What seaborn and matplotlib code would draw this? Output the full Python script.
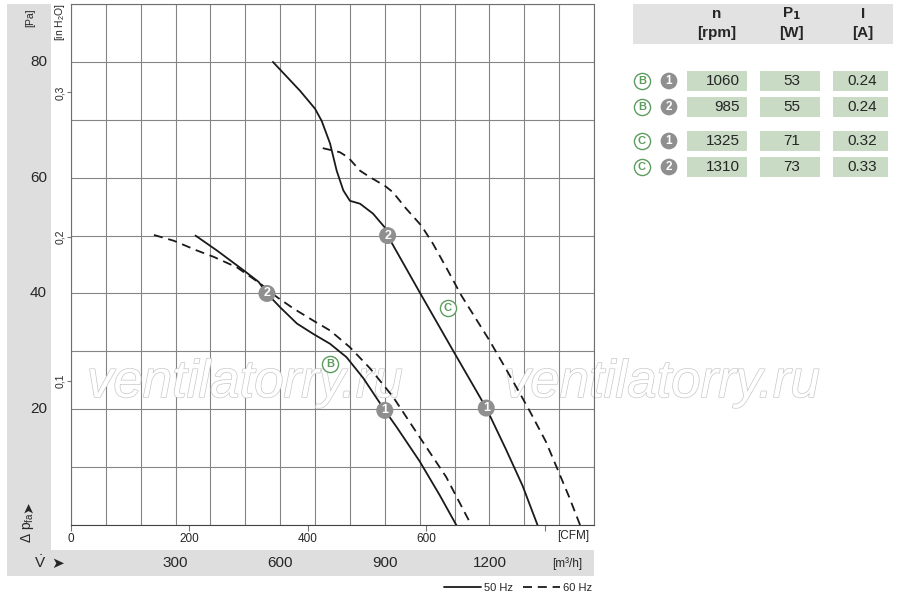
import pandas as pd
import matplotlib.pyplot as plt
import matplotlib.transforms as mtransforms
import matplotlib.patheffects as pe
from matplotlib.patches import Rectangle
from matplotlib.lines import Line2D
import seaborn as sns

# --- Configuration ---
sns.set_style('white')
plt.rcParams['font.family'] = ['Liberation Sans', 'DejaVu Sans']
plt.rcParams['mathtext.fontset'] = 'custom'
plt.rcParams['mathtext.rm'] = 'Liberation Sans'
plt.rcParams['mathtext.it'] = 'Liberation Sans:italic'

GRID = '#858585'
CELL = '#c9dac5'
BAND = '#dedede'
GREEN = '#5c9c5e'
DOT = '#8f8f8f'
CFM_TO_M3H = 1.699

# --- Data (flow in m3/h, pressure in Pa) ---
c50_flow = [579, 657, 700, 719, 743, 762, 781, 800, 829, 866, 900, 908, 1000, 1097, 1191, 1248, 1295, 1338]
c50_pa = [80.0, 75.0, 71.9, 69.8, 65.9, 61.2, 57.8, 56.0, 55.5, 53.8, 51.4, 50.0, 40.2, 30.0, 20.2, 13.0, 6.8, 0]

c60_flow = [722, 771, 795, 829, 857, 900, 923, 962, 1005, 1038, 1076, 1119, 1200, 1248, 1286, 1319, 1362, 1390, 1429, 1460]
c60_pa = [65.1, 64.4, 63.5, 61.2, 60.1, 58.6, 57.5, 54.6, 51.7, 48.6, 44.5, 39.7, 31.9, 26.9, 22.9, 19.3, 14.4, 10.4, 4.8, 0]

b50_flow = [357, 419, 495, 538, 562, 600, 648, 695, 743, 790, 838, 900, 933, 1000, 1057, 1105]
b50_pa = [50.0, 47.4, 44.0, 42.0, 40.0, 37.6, 34.8, 33.0, 31.3, 29.0, 25.4, 19.8, 17.0, 11.0, 5.2, 0]

b60_flow = [238, 295, 362, 410, 476, 543, 590, 638, 695, 743, 800, 857, 924, 981, 1076, 1148]
b60_pa = [50.1, 49.1, 47.4, 46.3, 44.5, 41.7, 39.4, 37.4, 35.3, 33.6, 30.7, 27.1, 22.1, 16.9, 8.3, 0]

# operating points (grey discs) and zone tags (green rings)
op_flow = [908, 1191, 562, 900]
op_pa = [50.0, 20.2, 40.0, 19.8]
op_label = ['2', '1', '2', '1']
tag_flow = [1081, 743]
tag_pa = [37.5, 27.8]
tag_label = ['C', 'B']

# axis labels
pa_ticks = [20, 40, 60, 80]
inh2o_ticks = [0.1, 0.2, 0.3]
inh2o_labels = ['0,1', '0,2', '0,3']
m3h_ticks = [300, 600, 900, 1200]
cfm_ticks = [0, 200, 400, 600, 800]
cfm_labels = ['0', '200', '400', '600', '']

# table
fan_type = ['B', 'B', 'C', 'C']
op_point = ['1', '2', '1', '2']
speed_rpm = [1060, 985, 1325, 1310]
power_w = [53, 55, 71, 73]
current_a = [0.24, 0.24, 0.32, 0.33]


def build_frame():
    parts = []
    for name, fl, pa, hz in [('C50', c50_flow, c50_pa, '50 Hz'), ('C60', c60_flow, c60_pa, '60 Hz'),
                             ('B50', b50_flow, b50_pa, '50 Hz'), ('B60', b60_flow, b60_pa, '60 Hz')]:
        parts.append(pd.DataFrame({'flow': fl, 'pa': pa, 'curve': name, 'freq': hz}))
    return pd.concat(parts, ignore_index=True)


df = build_frame()

fig = plt.figure(figsize=(9, 6), dpi=100)

# overlay in pixel coordinates for bands, table and labels
ov = fig.add_axes([0, 0, 1, 1], zorder=0)
ov.set_xlim(0, 900)
ov.set_ylim(600, 0)
ov.axis('off')
ov.add_patch(Rectangle((7, 4), 44, 572, color=BAND, lw=0))
ov.add_patch(Rectangle((7, 550), 587, 26, color=BAND, lw=0))

ax = fig.add_axes([71 / 900, 75 / 600, 523 / 900, 521 / 600], zorder=1)
ax.set_xlim(0, 1500)
ax.set_ylim(0, 90)
ax.set_xticks(range(0, 1501, 100))
ax.set_yticks(range(0, 91, 10))
ax.tick_params(length=0, labelbottom=False, labelleft=False)
ax.grid(True, color=GRID, lw=0.8)
for s in ax.spines.values():
    s.set_color('#6e6e6e')
    s.set_linewidth(0.8)
ax.spines['bottom'].set_color('#444444')

sns.lineplot(data=df, x='flow', y='pa', units='curve', estimator=None, sort=False,
             style='freq', dashes={'50 Hz': '', '60 Hz': (5, 3.2)}, color='#1a1a1a',
             lw=1.3, legend=False, ax=ax, zorder=3)
ax.set_xlabel('')
ax.set_ylabel('')

# watermark
for cx in [245, 662]:
    ax.text(cx, 397, 'ventilatorry.ru', transform=ov.transData, ha='center', va='baseline',
            fontsize=38, style='italic', family=['Liberation Sans', 'DejaVu Sans'], color='white',
            clip_on=False, zorder=2,
            path_effects=[pe.withStroke(linewidth=1.0, foreground='#c8c8c8')])

sns.scatterplot(x=op_flow, y=op_pa, s=150, color=DOT, edgecolor='none', ax=ax, zorder=5)
for f, p, lab in zip(op_flow, op_pa, op_label):
    ax.text(f, p, lab, ha='center', va='center', color='white', fontsize=9,
            fontweight='bold', zorder=6)
sns.scatterplot(x=tag_flow, y=tag_pa, s=135, color='white', edgecolor=GREEN, linewidth=1,
                ax=ax, zorder=5)
for f, p, lab in zip(tag_flow, tag_pa, tag_label):
    ax.text(f, p, lab, ha='center', va='center', color=GREEN, fontsize=8,
            fontweight='bold', zorder=6)

# CFM scale below the plot
secx = ax.secondary_xaxis('bottom', functions=(lambda q: q / CFM_TO_M3H, lambda c: c * CFM_TO_M3H))
secx.set_xticks(cfm_ticks)
secx.set_xticklabels(cfm_labels)
secx.tick_params(length=4, width=0.8, color='#777777', labelsize=8.5, pad=2)
secx.spines['bottom'].set_visible(False)

# inH2O scale on the left
secy = ax.secondary_yaxis('left', functions=(lambda p: p / 249.09, lambda h: h * 249.09))
secy.set_yticks(inh2o_ticks)
secy.set_yticklabels(inh2o_labels, rotation=90, va='center')
secy.tick_params(length=3, width=0.8, color='#777777', labelsize=7.5, pad=1.5)
secy.spines['left'].set_visible(False)

# Pa labels in the grey band, m3/h labels in the bottom band
pa_tr = mtransforms.blended_transform_factory(ov.transData, ax.transData)
for p in pa_ticks:
    ax.text(47, p, str(p), transform=pa_tr, ha='right', va='center', fontsize=11, clip_on=False)
q_tr = mtransforms.blended_transform_factory(ax.transData, ov.transData)
for q in m3h_ticks:
    ax.text(q, 563, str(q), transform=q_tr, ha='center', va='center', fontsize=11, clip_on=False)

ov.text(573, 536, '[CFM]', ha='center', va='center', fontsize=8.5)
ov.text(567, 564, '[m³/h]', ha='center', va='center', fontsize=8.5)
ov.text(40, 563, r'$\dot{\mathrm{V}}$', ha='center', va='center', fontsize=11)
ov.text(58, 563, '➤', ha='center', va='center', fontsize=11, family='DejaVu Sans')
ov.text(30, 18, '[Pa]', ha='center', va='center', fontsize=7.5, rotation=90)
ov.text(60, 22, r'[in H$_2$O]', ha='center', va='center', fontsize=7.5, rotation=90)
ov.text(28, 527, r'$\Delta$ p$_{\mathrm{fa}}$', ha='center', va='center', fontsize=10, rotation=90)
ov.text(28, 507, '➤', ha='center', va='center', fontsize=10, rotation=90, family='DejaVu Sans')

# --- Table ---
ov.add_patch(Rectangle((633, 4), 260, 40, color='#e2e2e2', lw=0))
for cx, top, bottom in [(717, 'n', '[rpm]'), (791, r'P$_{\mathbf{1}}$', '[W]'), (863, 'I', '[A]')]:
    ov.text(cx, 14, top, ha='center', va='center', fontsize=11, fontweight='bold')
    ov.text(cx, 33, bottom, ha='center', va='center', fontsize=11, fontweight='bold')

row_y = [81, 107, 141, 167]
for y, ft, op, n, pw, cur in zip(row_y, fan_type, op_point, speed_rpm, power_w, current_a):
    ov.scatter(642, y, s=135, color='white', edgecolor=GREEN, linewidth=1, zorder=3)
    ov.text(642, y, ft, ha='center', va='center', color=GREEN, fontsize=8,
            fontweight='bold', zorder=4)
    ov.scatter(669, y, s=145, color=DOT, edgecolor='none', zorder=3)
    ov.text(669, y, op, ha='center', va='center', color='white', fontsize=8.5,
            fontweight='bold', zorder=4)
    for x0, w in [(687, 60), (760, 60), (833, 55)]:
        ov.add_patch(Rectangle((x0, y - 10), w, 20, color=CELL, lw=0))
    ov.text(740, y, str(n), ha='right', va='center', fontsize=11)
    ov.text(792, y, str(pw), ha='center', va='center', fontsize=11)
    ov.text(862, y, f'{cur:.2f}', ha='center', va='center', fontsize=11)

# --- Legend ---
handles = [Line2D([], [], color='#1a1a1a', lw=1.3),
           Line2D([], [], color='#1a1a1a', lw=1.3, dashes=(5, 3.2))]
fig.legend(handles, ['50 Hz', '60 Hz'], loc='center right', bbox_to_anchor=(592 / 900, 1 - 588 / 600),
           ncol=2, frameon=False, fontsize=8, handlelength=3.3, columnspacing=0.9,
           handletextpad=0.3, borderpad=0, borderaxespad=0)

fig.savefig('out.png', dpi=100)
